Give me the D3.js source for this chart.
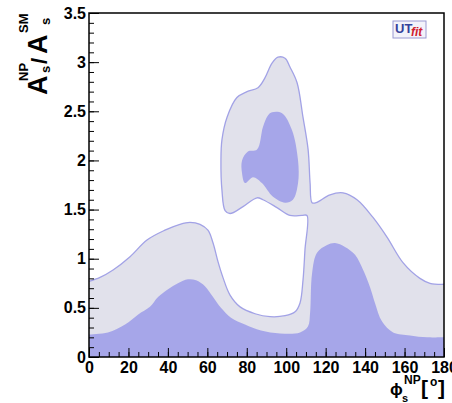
<!DOCTYPE html>
<html>
<head>
<meta charset="utf-8">
<script src="https://cdn.jsdelivr.net/npm/d3@7"></script>
<style>
body { margin: 0; background: #fff; }
text { font-family: "Liberation Sans", Arial, sans-serif; font-weight: bold; }
</style>
</head>
<body>
<div class="container"></div>
<script>
const W = 452, H = 403;
const LEFT = 89, RIGHT = 444, TOP = 13, BOTTOM = 357;

// outer (95%) region boundary, [phi, A], left edge to right edge
var outerEdge = [
  [0,0.77],[5.6,0.81],[12.2,0.885],[20.8,1.02],[29.4,1.19],[38.5,1.29],[46.1,1.35],
  [51.2,1.37],[56.3,1.35],[60.3,1.29],[62.9,1.16],[65.4,0.97],[67.9,0.81],[71.5,0.63],
  [76.6,0.51],[84.2,0.44],[91.8,0.41],[99.4,0.42],[104.5,0.46],[107,0.55],[108.5,0.78],
  [109.5,1.09],[110.5,1.44],
  [108,1.44],[101.9,1.44],[95.3,1.52],[88.2,1.60],[85.2,1.62],[78.1,1.53],[71.5,1.46],[69,1.49],
  [67.4,1.70],[66.9,2.00],[67.4,2.21],[70,2.44],[75,2.64],[80.1,2.70],[85.7,2.74],[89.2,2.84],
  [92.8,2.99],[95.8,3.05],[99.4,3.04],[101.9,2.95],[105.5,2.79],[108.5,2.44],[111.1,2.11],
  [112.1,1.77],[113.1,1.57],
  [115.1,1.57],[122.2,1.65],[128.8,1.67],[135.9,1.60],[144,1.42],[151.1,1.22],[159.2,0.96],
  [167.8,0.80],[172.9,0.75],[180,0.74]
];

// inner (68%) region, lower band
var innerBand = [
  [0,0.23],[9.6,0.25],[18.3,0.33],[24.8,0.43],[30.9,0.51],[35,0.61],[40.1,0.69],[45.1,0.75],
  [50.2,0.79],[54.3,0.78],[58.8,0.72],[62.9,0.61],[66.9,0.50],[72,0.40],[79.1,0.33],[87.2,0.27],
  [96.9,0.24],[107,0.25],[111,0.31],[112.1,0.45],[113.1,0.85],[115.6,1.06],[120.7,1.14],
  [124.7,1.16],[129.8,1.12],[134.9,1.04],[138.9,0.89],[142.5,0.71],[145,0.55],[148.6,0.36],
  [154.2,0.25],[162.8,0.22],[171.4,0.20],[180,0.20]
];

// inner (68%) region, island
var innerIsland = [
  [92.8,2.49],[97.9,2.48],[102.9,2.31],[106,2.00],[106,1.77],[103.4,1.60],[99.4,1.57],
  [93.3,1.63],[87.7,1.77],[83.2,1.83],[79.1,1.77],[77.6,1.87],[77.6,2.00],[80.6,2.09],
  [85.2,2.11],[88.2,2.34],[90.8,2.46]
];

var xMajor = d3.range(0, 181, 20);
var xMinor = d3.range(0, 181, 5);
var yMajor = [0, 0.5, 1, 1.5, 2, 2.5, 3, 3.5];
var yMinor = d3.range(0, 3.51, 0.1);

var svg = d3.select(".container").append("svg")
    .attr("width", W).attr("height", H);

var x = d3.scaleLinear().domain([0, 180]).range([LEFT, RIGHT]);
var y = d3.scaleLinear().domain([0, 3.5]).range([BOTTOM, TOP]);

var contour = d3.line().x(d => x(d[0])).y(d => y(d[1])).curve(d3.curveCatmullRom.alpha(0.5));
var blob = d3.line().x(d => x(d[0])).y(d => y(d[1])).curve(d3.curveCatmullRomClosed.alpha(0.5));

// outer region: fill down to the axis, stroke only the contour
var outerPath = contour(outerEdge) + "L" + x(180) + "," + y(0) + "L" + x(0) + "," + y(0) + "Z";
svg.append("path").attr("d", outerPath).attr("fill", "#e1e1eb");

var bandPath = contour(innerBand) + "L" + x(180) + "," + y(0) + "L" + x(0) + "," + y(0) + "Z";
svg.append("path").attr("d", bandPath).attr("fill", "#a6a6e9");
svg.append("path").attr("d", blob(innerIsland)).attr("fill", "#a6a6e9");

svg.append("path").attr("d", contour(outerEdge))
    .attr("fill", "none").attr("stroke", "#a2a2e6").attr("stroke-width", 1.3);

// axes
svg.append("g").attr("transform", "translate(0," + BOTTOM + ")")
    .call(d3.axisBottom(x).tickValues(xMajor).tickSizeInner(-9).tickSizeOuter(0).tickPadding(5));
svg.append("g").attr("transform", "translate(0," + BOTTOM + ")")
    .call(d3.axisBottom(x).tickValues(xMinor).tickSizeInner(-5).tickSizeOuter(0).tickFormat(""));
svg.append("g").attr("transform", "translate(" + LEFT + ",0)")
    .call(d3.axisLeft(y).tickValues(yMajor).tickSizeInner(-10).tickSizeOuter(0).tickPadding(3)
      .tickFormat(d3.format("")));
svg.append("g").attr("transform", "translate(" + LEFT + ",0)")
    .call(d3.axisLeft(y).tickValues(yMinor).tickSizeInner(-5).tickSizeOuter(0).tickFormat(""));

svg.selectAll(".tick text").attr("font-size", 16).attr("font-family", "Liberation Sans").attr("font-weight", "bold").attr("fill", "#000");
svg.selectAll(".domain").remove();
svg.selectAll(".tick line").attr("stroke", "#000");

// frame
svg.append("rect").attr("x", LEFT).attr("y", TOP)
    .attr("width", RIGHT - LEFT).attr("height", BOTTOM - TOP)
    .attr("fill", "none").attr("stroke", "#000").attr("stroke-width", 1.5);

// y title, rotated
var yt = svg.append("g").attr("transform", "translate(47,95) rotate(-90)");
yt.append("text").attr("x", 0).attr("y", 0).attr("font-size", 27).text("A");
yt.append("text").attr("x", 14).attr("y", -19).attr("font-size", 13).text("NP");
yt.append("text").attr("x", 22).attr("y", 3).attr("font-size", 13).text("s");
yt.append("text").attr("x", 31).attr("y", 0).attr("font-size", 22).text("/");
yt.append("text").attr("x", 41).attr("y", 0).attr("font-size", 27).text("A");
yt.append("text").attr("x", 62).attr("y", -19).attr("font-size", 13).text("SM");
yt.append("text").attr("x", 70).attr("y", 3).attr("font-size", 13).text("s");

// x title
svg.append("text").attr("x", 390).attr("y", 395).attr("font-size", 17)
    .attr("font-weight", "normal").attr("font-family", "DejaVu Sans").text("\u03D5");
svg.append("text").attr("x", 404).attr("y", 384).attr("font-size", 12).text("NP");
svg.append("text").attr("x", 402).attr("y", 402).attr("font-size", 11).text("s");
svg.append("text").attr("x", 421).attr("y", 395).attr("font-size", 21).text("[");
svg.append("text").attr("x", 430).attr("y", 386).attr("font-size", 12).text("o");
svg.append("text").attr("x", 438).attr("y", 395).attr("font-size", 21).text("]");

// UTfit logo
var logo = svg.append("g");
logo.append("rect").attr("x", 393).attr("y", 21).attr("width", 33).attr("height", 17)
    .attr("fill", "#f3f3fa").attr("stroke", "#9a9ad2").attr("stroke-width", 1);
logo.append("text").attr("x", 395).attr("y", 33).attr("font-size", 13)
    .attr("fill", "#34429a").text("UT");
logo.append("text").attr("x", 411).attr("y", 36).attr("font-size", 12)
    .attr("font-style", "italic").attr("font-weight", "normal").attr("fill", "#d0202e").text("fit");
</script>
</body>
</html>
